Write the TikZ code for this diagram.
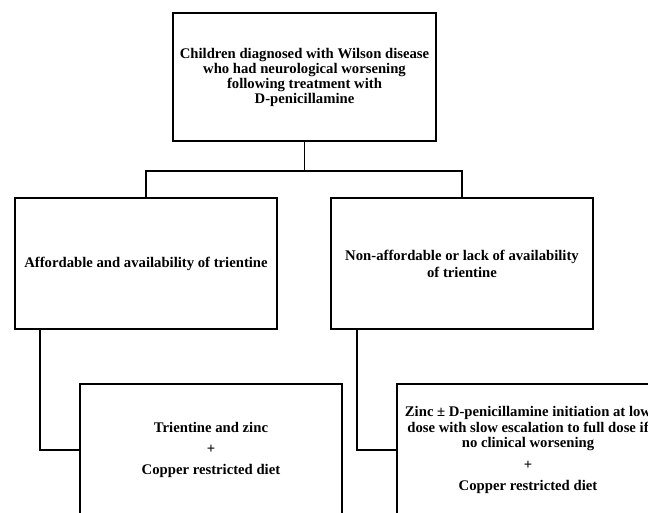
\documentclass[tikz,border=0pt]{standalone}
\usepackage{fontspec}
\setmainfont{Liberation Serif}
\begin{document}
\begin{tikzpicture}[x=1pt,y=-1pt,
  box/.style={draw=black, line width=1.5pt, fill=white, minimum width=262pt,
    minimum height=131pt, inner sep=0pt, align=center,
    font=\fontsize{14.7}{15}\selectfont\bfseries},
  link/.style={draw=black, line width=1.5pt}]
\useasboundingbox (0,0) rectangle (648,512);
\clip (0,0) rectangle (648,512);
\fill[white] (0,0) rectangle (648,512);
\node[box, minimum width=263pt, minimum height=128pt] (top) at (304.5,77)
  {Children diagnosed with Wilson disease\\who had neurological worsening\\following treatment with\\D-penicillamine};
\node[box] (l1) at (146,263.5) {Affordable and availability of trientine};
\node[box, font=\fontsize{14.7}{17}\selectfont\bfseries] (r1) at (462,263.5)
  {Non-affordable or lack of availability\\of trientine};
\node[box, minimum height=132pt, font=\fontsize{14.7}{21}\selectfont\bfseries] (l2) at (211,450)
  {Trientine and zinc\\+\\Copper restricted diet};
\node[box, minimum height=132pt, font=\fontsize{14.7}{15.5}\selectfont\bfseries] (r2) at (528,450)
  {Zinc ± D-penicillamine initiation at low\\dose with slow escalation to full dose if\\no clinical worsening\\[6pt]+\\[6pt]Copper restricted diet};
\coordinate (j) at (304.5,171);
\draw[link] (top.south) -- (j);
\draw[link] (l1.north) |- (j) -| (r1.north);
\draw[link] ([xshift=25.7pt]l1.south west) |- (l2.west);
\draw[link] ([xshift=26.7pt]r1.south west) |- (r2.west);
\end{tikzpicture}
\end{document}
